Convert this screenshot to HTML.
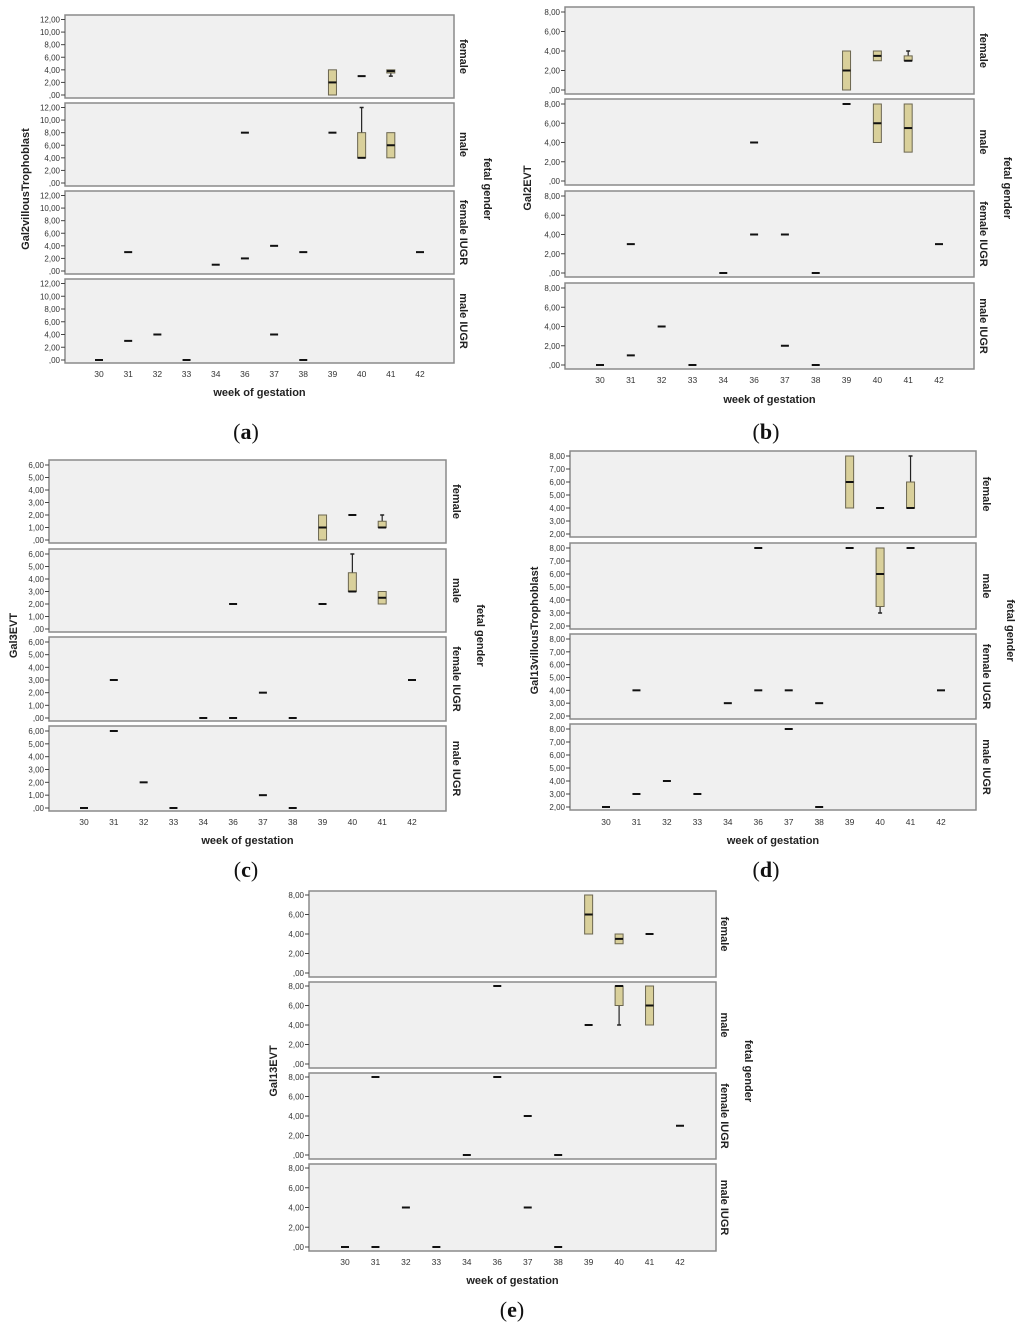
<!DOCTYPE html>
<html><head><meta charset="utf-8">
<style>
html,body{margin:0;padding:0;background:#fff;}
svg{display:block;}
text{font-family:"Liberation Sans",Arial,sans-serif;}
text.cap{font-family:"Liberation Serif","Times New Roman",serif;}
</style></head>
<body>
<svg id="fig" width="1024" height="1328" viewBox="0 0 1024 1328" xmlns="http://www.w3.org/2000/svg"></svg>
<script>
// ---- shared categories ----
const weeks = [30,31,32,33,34,36,37,38,39,40,41,42];
const rowLabels = ["female","male","female IUGR","male IUGR"];

// ---- panel a: Gal2villousTrophoblast ----
const aTicks = [0,2,4,6,8,10,12];
const aBoxes = [
  [{w:39,lo:0,q1:0,med:2,q3:4,hi:4},{w:41,lo:3,q1:3.5,med:3.8,q3:4,hi:4}],
  [{w:40,lo:4,q1:4,med:4,q3:8,hi:12},{w:41,lo:4,q1:4,med:6,q3:8,hi:8}],
  [],[]
];
const aSingles = [
  [[40,3]],
  [[36,8],[39,8]],
  [[31,3],[34,1],[36,2],[37,4],[38,3],[42,3]],
  [[30,0],[31,3],[32,4],[33,0],[37,4],[38,0]]
];
// ---- panel b: Gal2EVT ----
const bTicks = [0,2,4,6,8];
const bBoxes = [
  [{w:39,lo:0,q1:0,med:2,q3:4,hi:4},{w:40,lo:3,q1:3,med:3.5,q3:4,hi:4},{w:41,lo:3,q1:3,med:3,q3:3.5,hi:4}],
  [{w:40,lo:4,q1:4,med:6,q3:8,hi:8},{w:41,lo:3,q1:3,med:5.5,q3:8,hi:8}],
  [],[]
];
const bSingles = [
  [],
  [[36,4],[39,8]],
  [[31,3],[34,0],[36,4],[37,4],[38,0],[42,3]],
  [[30,0],[31,1],[32,4],[33,0],[37,2],[38,0]]
];
// ---- panel c: Gal3EVT ----
const cTicks = [0,1,2,3,4,5,6];
const cBoxes = [
  [{w:39,lo:0,q1:0,med:1,q3:2,hi:2},{w:41,lo:1,q1:1,med:1,q3:1.5,hi:2}],
  [{w:40,lo:3,q1:3,med:3,q3:4.5,hi:6},{w:41,lo:2,q1:2,med:2.5,q3:3,hi:3}],
  [],[]
];
const cSingles = [
  [[40,2]],
  [[36,2],[39,2]],
  [[31,3],[34,0],[36,0],[37,2],[38,0],[42,3]],
  [[30,0],[31,6],[32,2],[33,0],[37,1],[38,0]]
];
// ---- panel d: Gal13villousTrophoblast ----
const dTicks = [2,3,4,5,6,7,8];
const dBoxes = [
  [{w:39,lo:4,q1:4,med:6,q3:8,hi:8},{w:41,lo:4,q1:4,med:4,q3:6,hi:8}],
  [{w:40,lo:3,q1:3.5,med:6,q3:8,hi:8}],
  [],[]
];
const dSingles = [
  [[40,4]],
  [[36,8],[39,8],[41,8]],
  [[31,4],[34,3],[36,4],[37,4],[38,3],[42,4]],
  [[30,2],[31,3],[32,4],[33,3],[37,8],[38,2]]
];
// ---- panel e: Gal13EVT ----
const eTicks = [0,2,4,6,8];
const eBoxes = [
  [{w:39,lo:4,q1:4,med:6,q3:8,hi:8},{w:40,lo:3,q1:3,med:3.5,q3:4,hi:4}],
  [{w:40,lo:4,q1:6,med:8,q3:8,hi:8},{w:41,lo:4,q1:4,med:6,q3:8,hi:8}],
  [],[]
];
const eSingles = [
  [[41,4]],
  [[36,8],[39,4]],
  [[31,8],[34,0],[36,8],[37,4],[38,0],[42,3]],
  [[30,0],[31,0],[32,4],[33,0],[37,4],[38,0]]
];

const NS = "http://www.w3.org/2000/svg";
const svg = document.getElementById("fig");
function mk(tag, attrs, parent, txt){
  const e = document.createElementNS(NS, tag);
  for (const k in attrs) e.setAttribute(k, attrs[k]);
  if (txt !== undefined) e.textContent = txt;
  (parent||svg).appendChild(e);
  return e;
}
function fmt(v){ return v===0 ? ",00" : (v.toFixed(2).replace(".",",")); }

function panel(p){
  const g = mk("g",{});
  
  
  const xOf = w => p.c0 + (p.c1 - p.c0) * weeks.indexOf(w) / (weeks.length-1);
  const tmin = p.ticks[0], tmax = p.ticks[p.ticks.length-1];
  p.rows.forEach((r, ri) => {
    const [top, bot] = r;
    const yOf = v => (top + p.tp) + ((bot - p.bp) - (top + p.tp)) * (tmax - v) / (tmax - tmin);
    const rect = mk("rect",{x:p.x0,y:top,width:p.x1-p.x0,height:bot-top,fill:"#f0f0f0",stroke:"#8a8a8a","stroke-width":1.5},g);
    
    
    p.ticks.forEach(t => {
      const y = yOf(t);
      mk("line",{x1:p.x0-4,x2:p.x0,y1:y,y2:y,stroke:"#444","stroke-width":1},g);
      const tl = mk("text",{x:p.x0-5,y:y+3,"font-size":8,"text-anchor":"end",fill:"#333"},g,fmt(t));
      
      
    });
    const sl = mk("text",{x:0,y:0,"font-size":11,"font-weight":"bold","text-anchor":"middle",fill:"#222",transform:`translate(${p.sx},${(top+bot)/2}) rotate(90)`},g,rowLabels[ri]);
    
    
    p.boxes[ri].forEach(b => {
      const x = xOf(b.w), hw = 4;
      mk("line",{x1:x,x2:x,y1:yOf(b.hi),y2:yOf(b.q3),stroke:"#222","stroke-width":1.2},g);
      mk("line",{x1:x,x2:x,y1:yOf(b.q1),y2:yOf(b.lo),stroke:"#222","stroke-width":1.2},g);
      if (b.hi>b.q3) mk("line",{x1:x-2,x2:x+2,y1:yOf(b.hi),y2:yOf(b.hi),stroke:"#222","stroke-width":1.5},g);
      if (b.lo<b.q1) mk("line",{x1:x-2,x2:x+2,y1:yOf(b.lo),y2:yOf(b.lo),stroke:"#222","stroke-width":1.5},g);
      const bx = mk("rect",{x:x-hw,y:yOf(b.q3),width:hw*2,height:Math.max(1,yOf(b.q1)-yOf(b.q3)),fill:"#d9d09b",stroke:"#6b6650","stroke-width":1},g);
      
      
      mk("line",{x1:x-hw,x2:x+hw,y1:yOf(b.med),y2:yOf(b.med),stroke:"#111","stroke-width":2},g);
    });
    p.singles[ri].forEach(s => {
      const x = xOf(s[0]);
      const m = mk("line",{x1:x-4,x2:x+4,y1:yOf(s[1]),y2:yOf(s[1]),stroke:"#111","stroke-width":2},g);
      
      
    });
  });
  weeks.forEach(w => {
    const t = mk("text",{x:xOf(w),y:p.xly,"font-size":8.5,"text-anchor":"middle",fill:"#333"},g,String(w));
    
    
  });
  const xt = mk("text",{x:(p.x0+p.x1)/2,y:p.xty,"font-size":11,"font-weight":"bold","text-anchor":"middle",fill:"#222"},g,"week of gestation");
  
  
  const midY = (p.rows[0][0]+p.rows[3][1])/2;
  const yt = mk("text",{x:0,y:0,"font-size":11,"font-weight":"bold","text-anchor":"middle",fill:"#222",transform:`translate(${p.ytx},${midY}) rotate(-90)`},g,p.ytitle);
  
  
  const fg = mk("text",{x:0,y:0,"font-size":11,"font-weight":"bold","text-anchor":"middle",fill:"#222",transform:`translate(${p.fgx},${midY}) rotate(90)`},g,"fetal gender");
  
  
  const cap = mk("text",{x:p.capx,y:p.capy,"font-size":22,"text-anchor":"middle",fill:"#111","class":"cap",style:"font-family:'Liberation Serif','Times New Roman',serif"},svg);
  
  
  mk("tspan",{},cap,"(");
  mk("tspan",{"font-weight":"bold"},cap,p.id);
  mk("tspan",{},cap,")");
}

panel({id:"a",x0:65,x1:454,c0:99,c1:420,rows:[[15,98],[103,186],[191,274],[279,363]],tp:4.5,bp:3,ticks:aTicks,boxes:aBoxes,singles:aSingles,sx:460,xly:377,xty:396,ytx:29,fgx:484,ytitle:"Gal2villousTrophoblast",capx:246,capy:439});
panel({id:"b",x0:565,x1:974,c0:600,c1:939,rows:[[7,94],[99,185],[191,277],[283,369]],tp:5,bp:4,ticks:bTicks,boxes:bBoxes,singles:bSingles,sx:980,xly:383,xty:403,ytx:531,fgx:1004,ytitle:"Gal2EVT",capx:766,capy:439});
panel({id:"c",x0:49,x1:446,c0:84,c1:412,rows:[[460,543],[549,632],[637,721],[726,811]],tp:5,bp:3,ticks:cTicks,boxes:cBoxes,singles:cSingles,sx:453,xly:825,xty:844,ytx:17,fgx:477,ytitle:"Gal3EVT",capx:246,capy:877});
panel({id:"d",x0:570,x1:976,c0:606,c1:941,rows:[[451,537],[543,629],[634,719],[724,810]],tp:5,bp:3,ticks:dTicks,boxes:dBoxes,singles:dSingles,sx:983,xly:825,xty:844,ytx:538,fgx:1007,ytitle:"Gal13villousTrophoblast",capx:766,capy:877});
panel({id:"e",x0:309,x1:716,c0:345,c1:680,rows:[[891,977],[982,1068],[1073,1159],[1164,1251]],tp:4,bp:4,ticks:eTicks,boxes:eBoxes,singles:eSingles,sx:721,xly:1265,xty:1284,ytx:277,fgx:745,ytitle:"Gal13EVT",capx:512,capy:1317});
</script>
</body></html>
